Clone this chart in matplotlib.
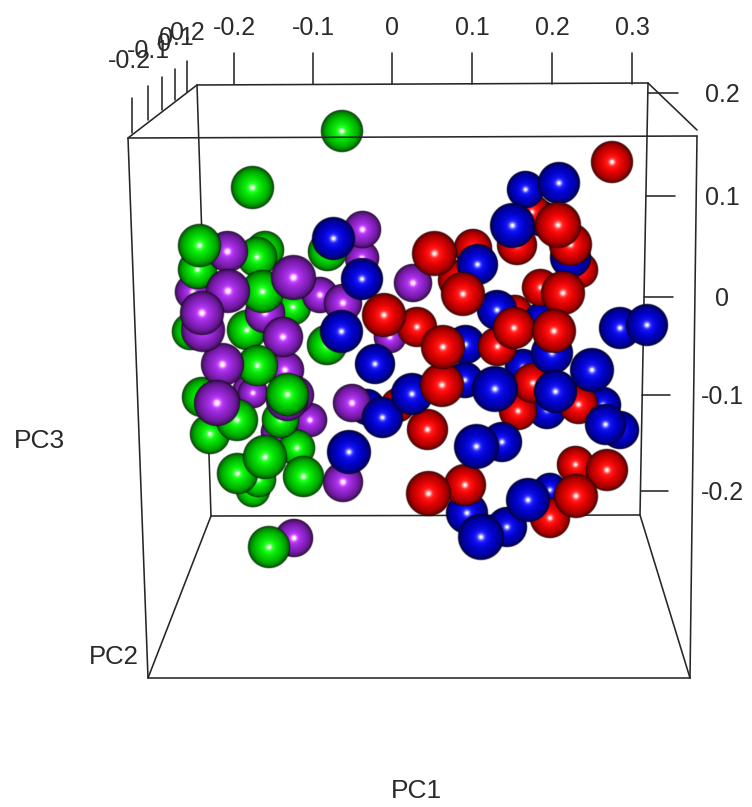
#!/usr/bin/env python3
"""3D PCA scatter (PC1/PC2/PC3), projected positions read off the picture"""

import matplotlib
matplotlib.use('Agg')
import matplotlib.pyplot as plt
import numpy as np

plt.rcParams['font.family'] = ['Liberation Sans', 'DejaVu Sans']

# projected sphere centres and apparent radius (bigger = nearer the viewer)
green_x = [342, 252, 199, 197, 265, 257, 327, 262, 293, 190, 247, 327, 257, 287, 202, 237, 210, 280, 297, 265, 237, 258, 253, 303, 269]
green_y = [131, 188, 246, 270, 250, 257, 252, 292, 307, 332, 330, 345, 366, 395, 397, 420, 434, 420, 448, 457, 474, 480, 490, 477, 547]
green_r = [21, 21.5, 21.5, 19.5, 19, 20, 19.5, 21.6, 18, 18.5, 20, 20, 20.5, 21.5, 20, 21, 20, 18.5, 18, 22, 20.5, 17.5, 17, 20.5, 21]

purple_x = [227, 362, 362, 293, 320, 343, 193, 228, 217, 202, 203, 265, 283, 222, 217, 285, 247, 253, 295, 287, 310, 278, 352, 390, 343, 294, 413]
purple_y = [252, 230, 258, 278, 295, 303, 292, 291, 290, 313, 330, 313, 337, 365, 403, 370, 390, 393, 395, 400, 420, 432, 403, 337, 482, 538, 283]
purple_r = [20.5, 18.5, 17, 22.2, 18, 19, 18, 22, 17.5, 22, 21.8, 20, 20, 21.5, 23, 19, 14.5, 15, 19, 21, 17, 17, 19, 16, 20, 19, 19]

blue_x = [333, 362, 341, 375, 367, 382, 349, 525, 559, 512, 540, 570, 477, 497, 542, 465, 552, 523, 592, 465, 412, 495, 555, 620, 647, 603, 605, 620, 547, 502, 476, 467, 507, 481, 528, 550]
blue_y = [239, 279, 332, 364, 407, 418, 452, 190, 183, 226, 218, 258, 265, 310, 320, 345, 353, 367, 370, 380, 394, 389, 392, 328, 325, 405, 425, 430, 410, 442, 447, 513, 527, 537, 500, 490]
blue_r = [21.2, 21, 21.5, 20, 18, 20.5, 22, 18.5, 21, 22.3, 18, 20.5, 20.5, 20, 18, 19.5, 21, 18, 22, 18, 21, 22.6, 21.6, 21, 21, 18.2, 20.2, 19, 19, 20, 22.3, 21, 20, 23, 22, 17]

red_x = [612, 532, 558, 517, 570, 580, 434, 473, 458, 463, 540, 563, 515, 514, 554, 497, 443, 417, 384, 442, 533, 583, 518, 578, 427, 398, 575, 607, 465, 428, 576, 550]
red_y = [162, 212, 225, 245, 245, 270, 254, 248, 280, 294, 288, 293, 312, 328, 331, 347, 347, 327, 315, 385, 383, 400, 411, 405, 430, 405, 465, 470, 485, 494, 496, 518]
red_r = [21, 18, 22.8, 20, 21.3, 18, 22.5, 19, 20, 22, 18.5, 21.7, 17, 21, 21.8, 19.5, 22, 20, 22, 21.8, 20, 18, 19, 19.5, 20.5, 17, 18.5, 21, 21, 22.5, 21.7, 20]

# axis ticks and labels
pc1_ticks = [-0.2, -0.1, 0, 0.1, 0.2, 0.3]
pc1_tick_x = [234, 313, 392, 472, 552, 632]
pc2_ticks = [-0.2, -0.1, 0, 0.1, 0.2]
pc2_tick_x = [132, 148, 162, 175, 187]
pc2_tick_y0 = [133, 120, 110, 100, 92]
pc2_tick_y1 = [98, 86, 77, 69, 61]
pc2_label_x = [129, 148, 164, 176, 187]
pc2_label_y = [61, 51, 44, 38, 33]
pc3_ticks = [0.2, 0.1, 0, -0.1, -0.2]
pc3_tick_y = [93, 196, 297, 395, 491]
pc3_tick_x0 = [648, 646, 644, 642, 641]
pc3_tick_x1 = [678, 675, 673, 670, 668]

base_colors = {'green': (0.0, 0.88, 0.0), 'purple': (0.60, 0.14, 0.85),
               'blue': (0.0, 0.0, 0.86), 'red': (0.93, 0.0, 0.0)}

PAD = 1.04


def sphere_image(rgb, n=121):
    # head-on light: small white spot, flat colour, dark only close to the rim
    u = np.linspace(-PAD, PAD, n)
    xx, yy = np.meshgrid(u, u)
    t = np.sqrt(xx**2 + yy**2)
    d = np.sqrt(np.clip(1 - t**2, 0, 1))
    shade = 0.05 + 1.0 * d**0.85
    spec = d**110
    glow = d**14
    img = np.zeros((n, n, 4))
    for i in range(3):
        img[..., i] = np.clip(rgb[i] * shade + 0.95 * spec + 0.12 * glow, 0, 1)
    img[..., 3] = np.clip((1.03 - t) / 0.05, 0, 1)
    return img


def fmt(v):
    return '0' if v == 0 else f'{v:g}'


fig = plt.figure(figsize=(7.52, 8.07), dpi=100)
ax = fig.add_axes([0, 0, 1, 1])
ax.axis('off')

text_col = '#2a2a2a'
line_kw = dict(color='#262626', linewidth=1.15, solid_capstyle='round')

# back of the box, behind the spheres
for xs, ys in [([197, 648], [85, 83]), ([197, 211], [85, 516]), ([211, 640], [516, 515]),
               ([648, 640], [83, 515]), ([211, 148], [516, 678]), ([640, 690], [515, 678]),
               ([128, 197], [138, 85]), ([648, 697], [83, 130])]:
    ax.plot(xs, ys, zorder=1, **line_kw)

images = {name: sphere_image(c) for name, c in base_colors.items()}
xs = green_x + purple_x + blue_x + red_x
ys = green_y + purple_y + blue_y + red_y
rs = green_r + purple_r + blue_r + red_r
names = (['green'] * len(green_x) + ['purple'] * len(purple_x)
         + ['blue'] * len(blue_x) + ['red'] * len(red_x))

# painter's order: far (small) spheres first
order = np.argsort(rs, kind='stable')
for k, i in enumerate(order):
    x, y, r = xs[i], ys[i], rs[i] * PAD
    ax.imshow(images[names[i]], extent=(x - r, x + r, y + r, y - r), origin='upper',
              interpolation='bilinear', aspect='auto', zorder=2 + k * 0.01)

# front of the box
for xs_, ys_ in [([128, 697], [138, 136]), ([128, 148], [138, 678]),
                 ([148, 690], [678, 678]), ([697, 690], [136, 678])]:
    ax.plot(xs_, ys_, zorder=5, **line_kw)

for v, x in zip(pc1_ticks, pc1_tick_x):
    ax.plot([x, x], [84, 53], zorder=1, **line_kw)
    ax.text(x, 28, fmt(v), ha='center', va='center', fontsize=18, color=text_col)

for v, x, y0, y1, lx, ly in zip(pc2_ticks, pc2_tick_x, pc2_tick_y0, pc2_tick_y1,
                                pc2_label_x, pc2_label_y):
    ax.plot([x, x], [y0, y1], zorder=1, **line_kw)
    ax.text(lx, ly, fmt(v), ha='center', va='center', fontsize=18, color=text_col)

for v, y, x0, x1 in zip(pc3_ticks, pc3_tick_y, pc3_tick_x0, pc3_tick_x1):
    ax.plot([x0, x1], [y, y], zorder=1, **line_kw)
    ax.text(722, y + 2, fmt(v), ha='center', va='center', fontsize=18, color=text_col)

ax.text(416, 791, 'PC1', ha='center', va='center', fontsize=19, color=text_col)
ax.text(114, 657, 'PC2', ha='center', va='center', fontsize=18.5, color=text_col)
ax.text(39, 441, 'PC3', ha='center', va='center', fontsize=19, color=text_col)

ax.set_xlim(0, 752)
ax.set_ylim(807, 0)

fig.savefig('out.png', dpi=100)
